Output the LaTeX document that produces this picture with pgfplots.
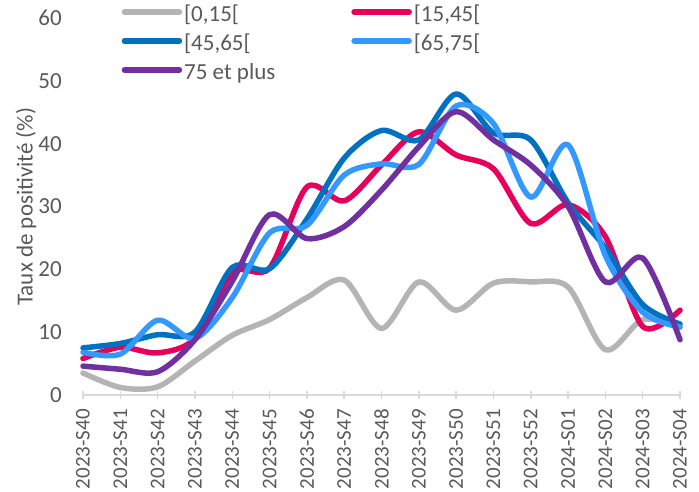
\documentclass[border=0pt]{standalone}
\usepackage{pgfplots}
\pgfplotsset{compat=1.18}
\usepackage{fontspec}
\setmainfont{Carlito}
\definecolor{cgray}{HTML}{B4B4B4}
\definecolor{cred}{HTML}{E6005C}
\definecolor{cdblue}{HTML}{0070C0}
\definecolor{clblue}{HTML}{3399FF}
\definecolor{cpurple}{HTML}{7030A0}
\definecolor{ctext}{HTML}{595959}
\definecolor{caxis}{HTML}{D9D9D9}
\begin{document}
\fontsize{23bp}{27bp}\selectfont
\begin{tikzpicture}
\useasboundingbox (-83bp,-97bp) rectangle (616bp,395bp);
\begin{axis}[
  at={(0,0)}, anchor=south west,
  scale only axis, width=597bp, height=377bp,
  xmin=0, xmax=16, ymin=0, ymax=60,
  clip=false,
  axis x line*=bottom, axis y line*=left,
  y axis line style={draw=none},
  x axis line style={draw=caxis, line width=1.5bp},
  xtick={0,...,16},
  xticklabels={2023-S40,2023-S41,2023-S42,2023-S43,2023-S44,2023-S45,2023-S46,2023-S47,2023-S48,2023-S49,2023-S50,2023-S51,2023-S52,2024-S01,2024-S02,2024-S03,2024-S04},
  xtick style={draw=caxis, line width=1.5bp},
  major tick length=8bp, tick align=center,
  ytick={0,10,...,60},
  ytick style={draw=none},
  xticklabel style={rotate=90, anchor=east, inner sep=0pt, xshift=-10bp, text=ctext, font=\fontsize{21bp}{25bp}\selectfont},
  yticklabel style={anchor=east, inner sep=0pt, xshift=-17bp, text=ctext, font=\fontsize{23bp}{27bp}\selectfont},
  /pgf/number format/assume math mode=true,
  ylabel={Taux de positivité (\%)},
  ylabel style={at={(axis description cs:-0.0955,0.5)}, anchor=center, text=ctext, font=\fontsize{23bp}{27bp}\selectfont},
  every axis plot/.append style={smooth, line width=5.5bp, line cap=round, line join=round},
  legend columns=2,
  legend image code/.code={\path (0bp,10bp) -- (55bp,10bp); \draw[#1] (3bp,10bp) -- (52bp,10bp);},
  legend style={draw=none, fill=none, inner sep=0pt, outer sep=0pt,
    at={(axis description cs:0.0648,1.0345)}, anchor=north west,
    row sep=6bp, column sep=2bp,
    /tikz/every even column/.append style={column sep=76bp},
    nodes={anchor=base west, text height=17bp, text depth=6bp, inner sep=0pt, text=ctext, font=\fontsize{23bp}{27bp}\selectfont}},
]
\addplot[cgray] coordinates {(0,3.5) (1,1.2) (2,1.3) (3,5.4) (4,9.5) (5,12.0) (6,15.5) (7,18.3) (8,10.6) (9,18.0) (10,13.5) (11,17.8) (12,18.0) (13,17.2) (14,7.2) (15,12.0) (16,10.8)};
\addlegendentry{[0,15[}
\addplot[cred] coordinates {(0,5.8) (1,7.6) (2,6.7) (3,9.0) (4,19.5) (5,20.2) (6,33.1) (7,30.9) (8,36.6) (9,41.9) (10,38.2) (11,36.0) (12,27.3) (13,30.3) (14,25.2) (15,10.9) (16,13.5)};
\addlegendentry{[15,45[}
\addplot[cdblue] coordinates {(0,7.5) (1,8.2) (2,9.6) (3,10.0) (4,20.3) (5,20.1) (6,28.0) (7,37.7) (8,42.1) (9,40.6) (10,47.9) (11,41.7) (12,40.6) (13,30.6) (14,23.4) (15,14.4) (16,11.3)};
\addlegendentry{[45,65[}
\addplot[clblue] coordinates {(0,6.8) (1,6.5) (2,11.9) (3,9.0) (4,15.5) (5,25.8) (6,27.0) (7,35.0) (8,36.8) (9,36.7) (10,46.0) (11,43.2) (12,31.5) (13,39.8) (14,22.2) (15,13.2) (16,10.8)};
\addlegendentry{[65,75[}
\addplot[cpurple] coordinates {(0,4.6) (1,4.1) (2,3.7) (3,8.8) (4,18.1) (5,28.7) (6,24.9) (7,26.8) (8,32.6) (9,39.5) (10,45.1) (11,40.6) (12,36.6) (13,30.0) (14,18.0) (15,21.8) (16,8.8)};
\addlegendentry{75 et plus}
\end{axis}
\end{tikzpicture}
\end{document}
